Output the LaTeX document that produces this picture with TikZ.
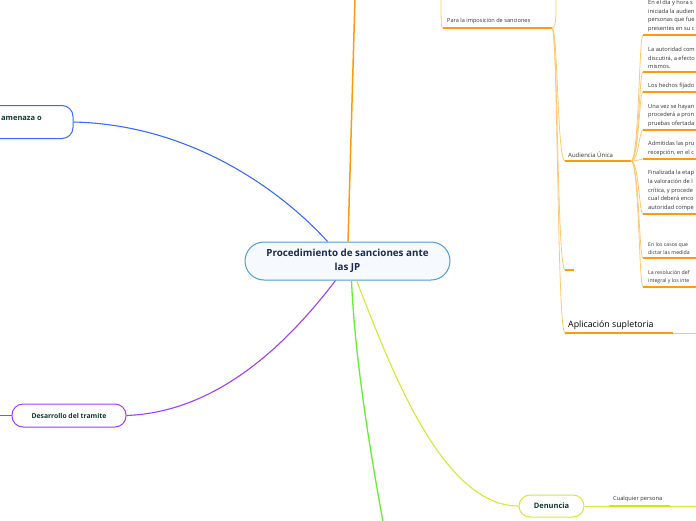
\documentclass[tikz,border=0pt]{standalone}
\usepackage{fontspec}
\setmainfont{Open Sans}
\definecolor{cblue}{HTML}{3A6BFF}
\definecolor{cblueb}{HTML}{4D9BE0}
\definecolor{cfill}{HTML}{F6FAFF}
\definecolor{cpurple}{HTML}{A03DFF}
\definecolor{cgreen}{HTML}{66EE33}
\definecolor{cyg}{HTML}{CCEE33}
\definecolor{cygd}{HTML}{C8EE00}
\definecolor{corange}{HTML}{FF9A0A}
\definecolor{clorange}{HTML}{FFC870}
\definecolor{cnavy}{HTML}{1B2A4E}
\definecolor{cdkgreen}{HTML}{0E3B2E}
\definecolor{ctext}{HTML}{333333}
\tikzset{
  mainbox/.style={draw=cblueb, fill=cfill, line width=1pt, rounded corners=19pt, minimum width=205pt, minimum height=38pt, align=center, text=cnavy, font=\fontsize{9.8}{13.5}\selectfont\bfseries},
  topicbox/.style={fill=white, line width=1pt, rounded corners=11pt, text=cdkgreen, font=\fontsize{7.5}{9}\selectfont\bfseries},
  leaf/.style={anchor=south west, inner sep=0pt, align=left, text=ctext, font=\fontsize{5.7}{8.7}\selectfont},
  leafs/.style={leaf, font=\fontsize{5.2}{8.5}\selectfont},
  uline/.style={draw=corange, line width=1.5pt},
  lcurve/.style={draw=clorange, line width=0.8pt},
}
\begin{document}
\begin{tikzpicture}[x=1pt,y=-1pt]
\useasboundingbox (0,0) rectangle (696,520);
\clip (0,0) rectangle (696,520);

% central node
\node[mainbox] (c) at (347.5,261) {Procedimiento de sanciones ante\\las JP};

% amenaza node (left cut off)
\node[topicbox, draw=cblue, minimum height=33pt, minimum width=140pt] (am) at (3,122) {};
\node[anchor=west, inner sep=0pt, text=cdkgreen, font=\fontsize{7.5}{9}\selectfont\bfseries] (amt) at (1,118.5) {amenaza o};

% Desarrollo node
\node[topicbox, draw=cpurple, minimum height=23pt, minimum width=114pt, font=\fontsize{6.8}{8}\selectfont\bfseries] (des) at (69,415.5) {Desarrollo del tramite};
\coordinate (desL) at (0,415.5);

% Denuncia node
\node[topicbox, draw=cyg, minimum height=22pt, minimum width=65pt] (den) at (551.5,506) {Denuncia};

% connectors from central
\draw[cblue, line width=1.1pt] (am.east) .. controls (200,125) and (290,200) .. ([xshift=-20pt]c.north);
\draw[corange, line width=1.5pt] ([xshift=0.5pt]c.north) -- (355,-2);
\draw[cpurple, line width=1.1pt] (des.east) .. controls (220,412) and (290,340) .. ([xshift=-12pt]c.south);
\draw[cpurple, line width=1.1pt] (des.west) -- (desL);
\draw[cgreen, line width=1.3pt] ([xshift=4pt]c.south) .. controls (355,360) and (370,450) .. (383,522);
\draw[cyg, line width=1.1pt] ([xshift=9pt]c.south) .. controls (388,360) and (440,506) .. (den.west);

% Denuncia child
\coordinate (cuS) at (609,506);
\coordinate (cuE) at (670,506);
\coordinate (cuF) at (700,506);
\node[leaf, anchor=south west] (cu) at (613,502) {Cualquier persona};
\draw[cyg, line width=0.8pt] (den.east) -- (cuS);
\draw[cygd, line width=1.6pt] (cuS) -- (cuE);
\draw[cyg, line width=0.8pt] (cuE) -- (cuF);

% Para la imposicion de sanciones
\coordinate (paS) at (443,28);
\coordinate (paE) at (552,28);
\coordinate (paIn) at (441,-5);
\coordinate (paUp) at (556,-8);
\node[anchor=south west, inner sep=0pt, text=ctext, font=\fontsize{5.6}{7}\selectfont] (pa) at (447,24.5) {Para la imposición de sanciones};
\draw[lcurve] (paIn) .. controls (441,22) and (441,28) .. (paS);
\draw[uline] (paS) -- (paE);
\draw[lcurve] (paE) .. controls (557,28) and (556,10) .. (paUp);

% Audiencia Unica
\coordinate (auS) at (565,161);
\coordinate (auE) at (631,161);
\node[anchor=south west, inner sep=0pt, text=ctext, font=\fontsize{6}{7}\selectfont] (au) at (568,157.5) {Audiencia Única};
\draw[lcurve] (paE) .. controls (558,28) and (557,161) .. (auS);
\draw[uline] (auS) -- (auE);

% stub
\coordinate (stS) at (565,270);
\coordinate (stE) at (574,270);
\draw[lcurve] (paE) .. controls (558,28) and (557,270) .. (stS);
\draw[uline] (stS) -- (stE);

% Aplicacion supletoria
\coordinate (apS) at (565,333);
\coordinate (apE) at (673,333);
\coordinate (apF) at (700,333);
\node[anchor=south west, inner sep=0pt, text=black, font=\fontsize{8.8}{10}\selectfont] (ap) at (568,330) {Aplicación supletoria};
\draw[lcurve] (paE) .. controls (558,28) and (557,333) .. (apS);
\draw[uline] (apS) -- (apE);
\draw[lcurve] (apE) -- (apF);

% Audiencia children
\foreach \u/\nm in {35/a,72/b,92/c,130/d,159/e,214/f,258/g,287/h}{
  \coordinate (s\nm) at (643,\u);
  \coordinate (e\nm) at (700,\u);
  \draw[lcurve] (auE) .. controls (639,161) and (639,\u) .. (s\nm);
  \draw[uline] (s\nm) -- (e\nm);
}
\node[leaf] (la) at (648,32) {En el día y hora s\\iniciada la audien\\personas que fue\\presentes en su c};
\node[leaf] (lb) at (648,69) {La autoridad com\\discutirá, a efecto\\mismos.};
\node[leaf] (lc) at (648,89) {Los hechos fijado};
\node[leaf] (ld) at (648,127) {Una vez se hayan\\procederá a pron\\pruebas ofertada};
\node[leaf] (le) at (648,156) {Admitidas las pru\\recepción, en el c};
\node[leaf] (lf) at (648,211) {Finalizada la etap\\la valoración de l\\crítica, y procede\\cual deberá enco\\autoridad compe};
\node[leafs] (lg) at (648,255) {En los casos que\\dictar las medida};
\node[leafs] (lh) at (648,284) {La resolución def\\integral y los inte};
\end{tikzpicture}
\end{document}
